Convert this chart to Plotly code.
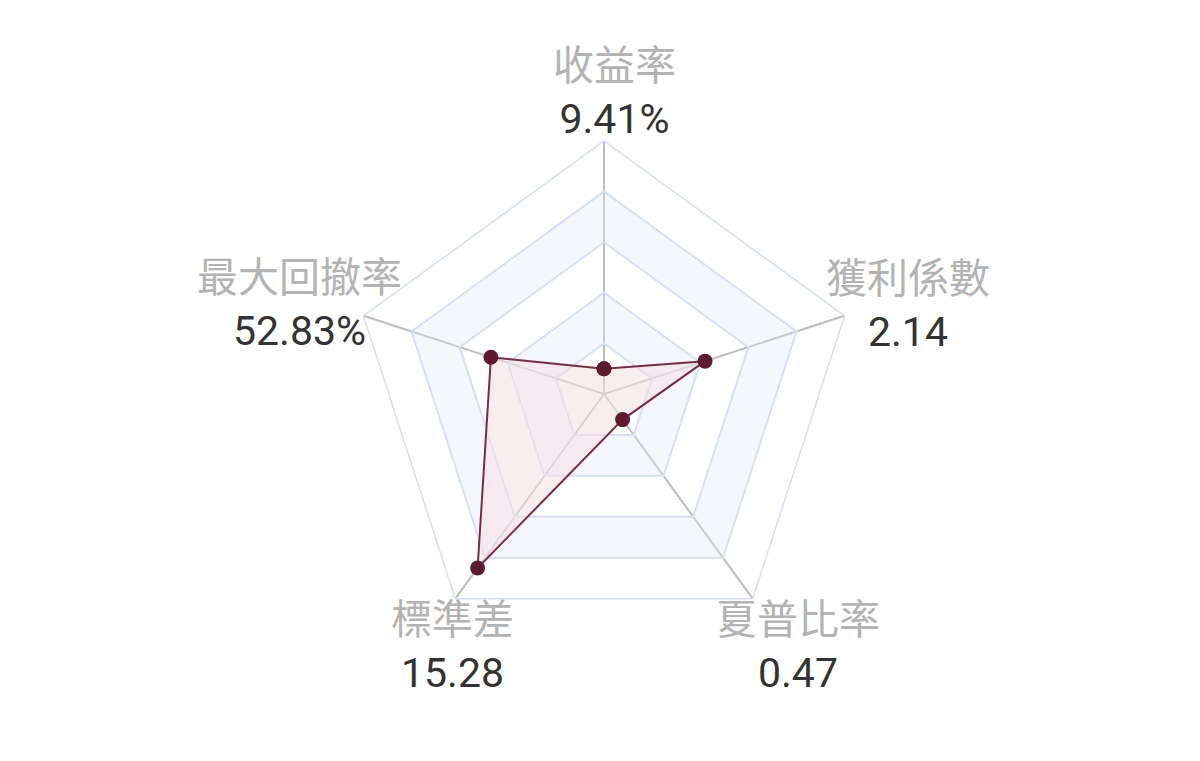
import plotly.graph_objects as go

# indicators, clockwise from the top
indicators = ["收益率", "獲利係數", "夏普比率", "標準差", "最大回撤率"]
display_values = ["9.41%", "2.14", "0.47", "15.28", "52.83%"]
# position of each point on a 0-100 radial scale
scores = [10, 42, 12.5, 85, 47]

rings = [20, 40, 60, 80, 100]
band_colors = [None, "rgba(226,232,247,0.34)", None, "rgba(226,232,247,0.34)", None]

W, H = 1200, 761

fig = go.Figure()

# alternating split areas (annulus polygons)
inner = 0
for ring, col in zip(rings, band_colors):
    if col is not None:
        theta = indicators + [indicators[0]] + [indicators[0]] + indicators[::-1]
        r = [ring] * 6 + [inner] * 6
        fig.add_trace(go.Scatterpolar(r=r, theta=theta, mode="lines", fill="toself",
                                      fillcolor=col, line=dict(width=0),
                                      hoverinfo="skip", showlegend=False))
    inner = ring

fig.add_trace(go.Scatterpolar(
    r=scores + [scores[0]], theta=indicators + [indicators[0]],
    mode="lines+markers", fill="toself",
    fillcolor="rgba(242,224,228,0.55)",
    line=dict(color="#7a2c42", width=2),
    marker=dict(color="#5e1a2e", size=15),
    showlegend=False))

fig.update_layout(
    width=W, height=H,
    paper_bgcolor="white",
    margin=dict(l=0, r=0, t=0, b=0),
    font=dict(family="Noto Sans CJK TC, Noto Sans, sans-serif"),
    polar=dict(
        domain=dict(x=[0, 1192 / W], y=[122 / H, 628 / H]),
        bgcolor="rgba(0,0,0,0)",
        gridshape="linear",
        radialaxis=dict(range=[0, 100], tickvals=rings, showticklabels=False,
                        ticks="", showline=False, gridcolor="#d6def0", gridwidth=1.5),
        angularaxis=dict(rotation=90, direction="clockwise", showticklabels=False,
                         ticks="", linecolor="#d6def0", linewidth=1.5,
                         gridcolor="#bdbdbd", gridwidth=1.8),
    ),
)

# indicator labels: grey name above, value below
label_pos = [(606, 80), (900, 292), (790, 633), (444, 633), (291, 291)]
for name, val, (px, py) in zip(indicators, display_values, label_pos):
    fig.add_annotation(
        x=px / W, y=1 - py / H, xref="paper", yref="paper",
        text="<span style='color:#b3b3b3;font-family:Noto Sans CJK TC'>" + name + "</span><br>" + val,
        showarrow=False, align="center", xanchor="center", yanchor="middle",
        font=dict(size=41, color="#333333", family="Roboto, sans-serif"))

fig.write_html("out.html")
